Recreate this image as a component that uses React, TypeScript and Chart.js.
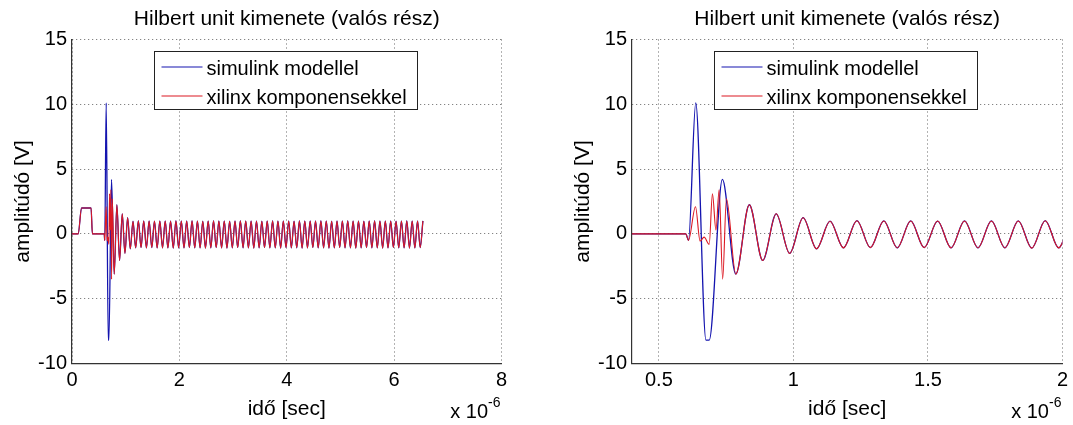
import React, { useEffect, useRef } from "react";
import { Chart, registerables } from "chart.js";

Chart.register(...registerables);

// ---------- texts ----------
const TITLE = "Hilbert unit kimenete (valós rész)";
const X_LABEL = "idő [sec]";
const Y_LABEL = "amplitúdó [V]";
const X_MULT_BASE = "x 10";
const X_MULT_EXP = "-6";
const SERIES_NAMES = ["simulink modellel", "xilinx komponensekkel"];

// ---------- axes ----------
const Y_RANGE = [-10, 15];
const Y_TICKS = [-10, -5, 0, 5, 10, 15];
const LEFT_X_RANGE = [0, 8];
const LEFT_X_TICKS = [0, 2, 4, 6, 8];
const RIGHT_X_RANGE = [0.4, 2];
const RIGHT_X_TICKS = [0.5, 1, 1.5, 2];

// ---------- data (time in microseconds, amplitude in V) ----------
// start pulse, common to both series
const PULSE_T = [0, 0.115, 0.178, 0.355, 0.38, 0.6];
const PULSE_V = [0, 0, 2, 2, 0, 0];

// transient of the simulink model
const SIM_T = [0.61, 0.637, 0.675, 0.687, 0.736, 0.786, 0.836, 0.886, 0.936, 0.986, 1.036, 1.086];
const SIM_V = [-0.5, 10.1, -8.2, -8.2, 4.2, -3.1, 2.25, -2.05, 1.55, -1.5, 1.25, -1.15];

// transient of the xilinx components
const XIL_T = [0.61, 0.636, 0.653, 0.668, 0.687, 0.699, 0.712, 0.724, 0.737, 0.751, 0.786, 0.836, 0.886, 0.936, 0.986, 1.036, 1.086];
const XIL_V = [-0.5, 2.1, -0.55, -0.25, -0.8, 3.1, 0.3, 3.4, -3.5, 2.7, -3.1, 2.25, -2.05, 1.55, -1.5, 1.25, -1.15];

// steady state (both series overlap): peaks and troughs
const STEADY_T = [
  1.136, 1.186, 1.236, 1.286, 1.336, 1.386, 1.436, 1.486, 1.536, 1.586,
  1.636, 1.686, 1.736, 1.786, 1.836, 1.886, 1.936, 1.986, 2.036, 2.086,
  2.136, 2.186, 2.236, 2.286, 2.336, 2.386, 2.436, 2.486, 2.536, 2.586,
  2.636, 2.686, 2.736, 2.786, 2.836, 2.886, 2.936, 2.986, 3.036, 3.086,
  3.136, 3.186, 3.236, 3.286, 3.336, 3.386, 3.436, 3.486, 3.536, 3.586,
  3.636, 3.686, 3.736, 3.786, 3.836, 3.886, 3.936, 3.986, 4.036, 4.086,
  4.136, 4.186, 4.236, 4.286, 4.336, 4.386, 4.436, 4.486, 4.536, 4.586,
  4.636, 4.686, 4.736, 4.786, 4.836, 4.886, 4.936, 4.986, 5.036, 5.086,
  5.136, 5.186, 5.236, 5.286, 5.336, 5.386, 5.436, 5.486, 5.536, 5.586,
  5.636, 5.686, 5.736, 5.786, 5.836, 5.886, 5.936, 5.986, 6.036, 6.086,
  6.136, 6.186, 6.236, 6.286, 6.336, 6.386, 6.436, 6.486, 6.536,
];
const STEADY_V = [
  0.98, -1.08, 1.02, -1.06, 1.0, -1.08, 1.0, -1.06, 0.99, -1.08,
  1.0, -1.08, 1.0, -1.08, 1.0, -1.1, 1.02, -1.08, 1.0, -1.08,
  1.0, -1.06, 1.02, -1.08, 1.0, -1.08, 0.98, -1.1, 1.0, -1.08,
  1.02, -1.06, 1.0, -1.08, 1.0, -1.1, 0.98, -1.08, 1.0, -1.06,
  1.02, -1.08, 1.0, -1.08, 1.0, -1.1, 1.0, -1.08, 0.98, -1.06,
  1.0, -1.08, 1.02, -1.08, 1.0, -1.1, 1.0, -1.06, 1.0, -1.08,
  0.98, -1.08, 1.02, -1.1, 1.0, -1.08, 1.0, -1.06, 1.0, -1.08,
  1.02, -1.08, 1.0, -1.1, 0.98, -1.08, 1.0, -1.06, 1.0, -1.08,
  1.02, -1.08, 1.0, -1.1, 1.0, -1.08, 0.98, -1.06, 1.0, -1.08,
  1.02, -1.08, 1.0, -1.1, 1.0, -1.08, 1.0, -1.06, 0.98, -1.08,
  1.0, -1.08, 1.02, -1.1, 1.0, -1.08, 1.0, -1.06, 1.0,
];

// ---------- styling ----------
const FONT = "'Liberation Sans', Arial, Helvetica, sans-serif";
const BLUE = "rgb(20,20,175)";
const RED = "rgb(220,25,35)";
const GRID = "rgba(0,0,0,0.6)";
const AXIS = "#333";

function pts(ts: number[], vs: number[]) {
  return ts.map((t, i) => ({ x: t, y: vs[i] }));
}

const SIM_POINTS = [...pts(PULSE_T, PULSE_V), ...pts(SIM_T, SIM_V), ...pts(STEADY_T, STEADY_V)];
const XIL_POINTS = [...pts(PULSE_T, PULSE_V), ...pts(XIL_T, XIL_V), ...pts(STEADY_T, STEADY_V)];

const decorPlugin = {
  id: "decor",
  afterDraw(chart: any) {
    const { ctx, chartArea: a } = chart;
    const cx = (a.left + a.right) / 2;
    ctx.save();
    ctx.fillStyle = "#000";
    ctx.textAlign = "center";
    ctx.textBaseline = "alphabetic";
    ctx.font = `21px ${FONT}`;
    ctx.fillText(TITLE, cx, 25);
    ctx.fillText(X_LABEL, cx, 415);

    // exponent label
    ctx.font = `20px ${FONT}`;
    ctx.textAlign = "right";
    const expFont = `14px ${FONT}`;
    ctx.font = expFont;
    const ew = ctx.measureText(X_MULT_EXP).width;
    ctx.fillText(X_MULT_EXP, a.right - 1, 407);
    ctx.font = `20px ${FONT}`;
    ctx.fillText(X_MULT_BASE, a.right - 1 - ew, 418);

    // y label
    ctx.save();
    ctx.translate(a.left - 49, (a.top + a.bottom) / 2);
    ctx.rotate(-Math.PI / 2);
    ctx.textAlign = "center";
    ctx.textBaseline = "middle";
    ctx.font = `21px ${FONT}`;
    ctx.fillText(Y_LABEL, 0, 0);
    ctx.restore();

    // legend
    const bx = Math.round(a.left + 82) + 0.5;
    const by = 51.5;
    const bw = 263;
    const bh = 58;
    ctx.fillStyle = "#fff";
    ctx.fillRect(bx, by, bw, bh);
    ctx.strokeStyle = "#222";
    ctx.lineWidth = 1;
    ctx.strokeRect(bx, by, bw, bh);
    const colors = [BLUE, RED];
    const rows = [by + 15.5, by + 44.5];
    ctx.font = `20px ${FONT}`;
    ctx.textAlign = "left";
    ctx.textBaseline = "alphabetic";
    SERIES_NAMES.forEach((name, i) => {
      ctx.strokeStyle = colors[i];
      ctx.lineWidth = 1.2;
      ctx.beginPath();
      ctx.moveTo(bx + 7, rows[i]);
      ctx.lineTo(bx + 48, rows[i]);
      ctx.stroke();
      ctx.fillStyle = "#000";
      ctx.fillText(name, bx + 52, rows[i] + 7.5);
    });
    ctx.restore();
  },
};

function makeConfig(xRange: number[], xTicks: number[], yAxisWidth: number, rightPad: number): any {
  return {
    type: "line",
    data: {
      datasets: [
        {
          label: SERIES_NAMES[0],
          data: SIM_POINTS,
          borderColor: BLUE,
          borderWidth: 1.3,
          pointRadius: 0,
          cubicInterpolationMode: "monotone",
          order: 1,
        },
        {
          label: SERIES_NAMES[1],
          data: XIL_POINTS,
          borderColor: RED,
          borderWidth: 1.1,
          pointRadius: 0,
          cubicInterpolationMode: "monotone",
          order: 0,
        },
      ],
    },
    options: {
      animation: false,
      responsive: false,
      devicePixelRatio: 1,
      layout: { padding: { left: 0, top: 39.5, right: rightPad, bottom: 0 } },
      plugins: { legend: { display: false }, title: { display: false }, tooltip: { enabled: false } },
      scales: {
        x: {
          type: "linear",
          min: xRange[0],
          max: xRange[1],
          afterBuildTicks: (s: any) => {
            s.ticks = xTicks.map((v) => ({ value: v }));
          },
          afterFit: (s: any) => {
            s.height = 61.5;
          },
          ticks: {
            autoSkip: false,
            maxRotation: 0,
            padding: 5,
            color: "#000",
            font: { family: FONT, size: 20 },
            callback: (v: any) => String(v),
          },
          grid: { color: GRID, lineWidth: 1, drawTicks: false },
          border: { display: true, color: AXIS, width: 1.2, dash: [1, 3] },
        },
        y: {
          type: "linear",
          min: Y_RANGE[0],
          max: Y_RANGE[1],
          afterBuildTicks: (s: any) => {
            s.ticks = Y_TICKS.map((v) => ({ value: v }));
          },
          afterFit: (s: any) => {
            s.width = yAxisWidth;
          },
          ticks: {
            padding: 5,
            color: "#000",
            font: { family: FONT, size: 20 },
            callback: (v: any) => String(v),
          },
          grid: { color: GRID, lineWidth: 1, drawTicks: false },
          border: { display: true, color: AXIS, width: 1.2, dash: [1, 3] },
        },
      },
    },
    plugins: [decorPlugin],
  };
}

function Panel(props: { left: number; width: number; xRange: number[]; xTicks: number[]; yAxisWidth: number; rightPad: number }) {
  const ref = useRef<HTMLCanvasElement | null>(null);
  useEffect(() => {
    if (!ref.current) return;
    const chart = new Chart(ref.current, makeConfig(props.xRange, props.xTicks, props.yAxisWidth, props.rightPad));
    return () => chart.destroy();
  }, []);
  return (
    <canvas
      ref={ref}
      width={props.width}
      height={425}
      style={{ position: "absolute", left: props.left, top: 0, width: props.width, height: 425 }}
    />
  );
}

export default function App() {
  return (
    <div style={{ position: "absolute", left: 0, top: 0, width: 1073, height: 425, background: "#fff", overflow: "hidden" }}>
      <Panel left={0} width={540} xRange={LEFT_X_RANGE} xTicks={LEFT_X_TICKS} yAxisWidth={72} rightPad={38.5} />
      <Panel left={540} width={533} xRange={RIGHT_X_RANGE} xTicks={RIGHT_X_TICKS} yAxisWidth={92} rightPad={10} />
    </div>
  );
}
